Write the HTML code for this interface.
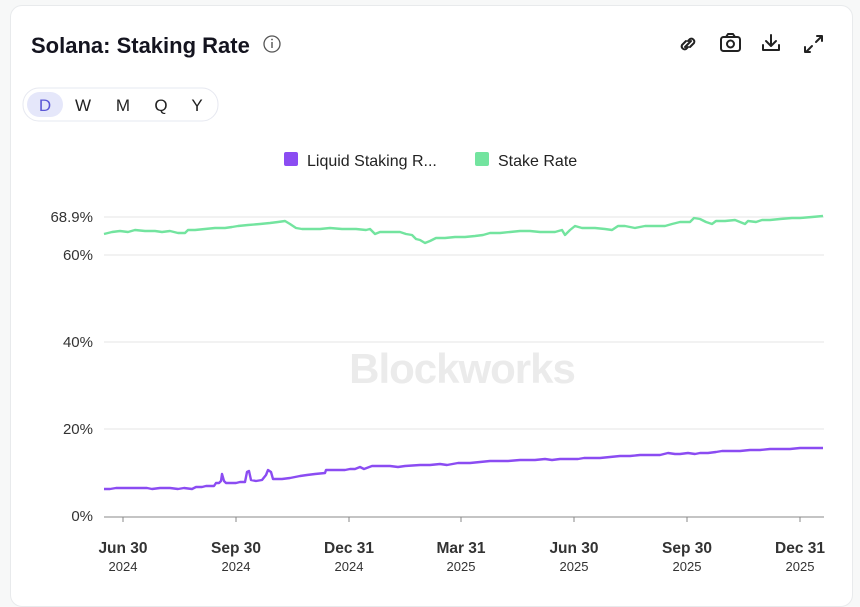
<!DOCTYPE html>
<html><head><meta charset="utf-8"><style>
html,body{margin:0;padding:0;background:#f7f8f8;width:860px;height:584px;overflow:hidden;font-family:"Liberation Sans",sans-serif}
.card{position:absolute;left:10px;top:5px;width:841px;height:600px;background:#fff;border:1px solid #e8eaec;border-radius:12px}
</style></head><body>
<div class="card"></div>
<svg width="860" height="584" style="position:absolute;left:0;top:0" font-family="Liberation Sans, sans-serif">
<text x="31" y="53" font-size="22" font-weight="bold" fill="#14141f">Solana: Staking Rate</text>
<circle cx="272" cy="44" r="8" fill="none" stroke="#555" stroke-width="1.3"/>
<line x1="272" y1="42" x2="272" y2="48" stroke="#555" stroke-width="1.4"/><circle cx="272" cy="39.5" r="0.9" fill="#555"/>
<g fill="none" stroke="#222" stroke-width="2" stroke-linecap="round" stroke-linejoin="round">
<path d="M686 41 l-4 4 a3 3 0 0 0 4 4 l2 -2 M690 47 l4 -4 a3 3 0 0 0 -4 -4 l-2 2 M685 47 l6 -6"/>
<rect x="721" y="37" width="19" height="14" rx="2.5"/><circle cx="730.5" cy="44" r="3.5"/><path d="M726 37 l2 -3 h5 l2 3"/>
<path d="M771 35 v11 M766 41 l5 5 l5 -5 M763 45 v5 h16 v-5"/>
<path d="M816 42 l6 -6 M817 36 h5 v5 M812 46 l-6 6 M805 47 v5 h5"/>
</g>
<rect x="23" y="88" width="195" height="33" rx="16" fill="#fff" stroke="#e6e8f0"/>
<rect x="27" y="92" width="36" height="25" rx="12.5" fill="#e5e7fa"/>
<g font-size="17" fill="#222" text-anchor="middle">
<text x="45" y="111" fill="#5b57d6">D</text><text x="83" y="111">W</text><text x="123" y="111">M</text><text x="161" y="111">Q</text><text x="197" y="111">Y</text>
</g>
<rect x="284" y="152" width="14" height="14" rx="2" fill="#8b4cf2"/>
<text x="307" y="166" font-size="16" fill="#222">Liquid Staking R...</text>
<rect x="475" y="152" width="14" height="14" rx="2" fill="#73e49f"/>
<text x="498" y="166" font-size="16" fill="#222">Stake Rate</text>
<text x="462" y="383" font-size="42" font-weight="bold" fill="#ebebeb" text-anchor="middle" letter-spacing="-1">Blockworks</text>
<g stroke="#e6e6e6" stroke-width="1">
<line x1="104" y1="217" x2="824" y2="217"/><line x1="104" y1="255" x2="824" y2="255"/>
<line x1="104" y1="342" x2="824" y2="342"/><line x1="104" y1="429" x2="824" y2="429"/>
</g>
<line x1="104" y1="517" x2="824" y2="517" stroke="#888" stroke-width="1"/>
<g stroke="#888"><line x1="123" y1="517" x2="123" y2="522"/><line x1="236" y1="517" x2="236" y2="522"/><line x1="349" y1="517" x2="349" y2="522"/><line x1="461" y1="517" x2="461" y2="522"/><line x1="574" y1="517" x2="574" y2="522"/><line x1="687" y1="517" x2="687" y2="522"/><line x1="800" y1="517" x2="800" y2="522"/></g>
<g font-size="15" fill="#333" text-anchor="end">
<text x="93" y="222">68.9%</text><text x="93" y="260">60%</text><text x="93" y="347">40%</text><text x="93" y="434">20%</text><text x="93" y="521">0%</text>
</g>
<g font-size="15.5" font-weight="bold" fill="#333" text-anchor="middle">
<text x="123" y="553">Jun 30</text><text x="236" y="553">Sep 30</text><text x="349" y="553">Dec 31</text><text x="461" y="553">Mar 31</text><text x="574" y="553">Jun 30</text><text x="687" y="553">Sep 30</text><text x="800" y="553">Dec 31</text>
</g>
<g font-size="13" fill="#333" text-anchor="middle">
<text x="123" y="571">2024</text><text x="236" y="571">2024</text><text x="349" y="571">2024</text><text x="461" y="571">2025</text><text x="574" y="571">2025</text><text x="687" y="571">2025</text><text x="800" y="571">2025</text>
</g>
<polyline fill="none" stroke="#73e49f" stroke-width="2.4" stroke-linejoin="round" points="104,234 112,232 120,231 128,232 135,230 145,231 155,231 162,232 170,231 178,233 185,233 188,230 195,230 205,229 215,228 225,228 232,227 238,226 248,225 260,224 270,223 278,222 285,221 290,224 296,228 302,229 312,229 320,229 330,228 342,229 356,229 366,230 370,229 375,234 380,232 390,232 400,232 406,234 412,235 416,239 420,240 425,243 430,241 436,238 445,238 455,237 465,237 475,236 483,235 490,233 500,233 510,232 520,231 530,231 540,232 548,232 555,232 562,230 565,235 570,230 575,226 582,228 595,228 605,229 612,230 618,226 625,226 635,228 645,226 655,226 665,226 672,224 680,222 690,222 694,218 700,219 706,222 712,224 716,221 725,221 735,220 740,222 745,224 748,221 756,222 762,220 770,220 780,219 792,218 800,218 812,217 823,216"/>
<polyline fill="none" stroke="#8b4cf2" stroke-width="2.4" stroke-linejoin="round" points="104,489 110,489 116,488 130,488 140,488 147,488 152,489 160,488 170,488 178,489 184,488 192,489 196,487 202,487 206,486 214,486 216,483 219,483 221,481 222,474 224,481 226,483 232,483 236,483 240,482 245,482 247,472 249,471 251,480 256,481 262,480 266,475 268,470 271,472 273,479 282,479 290,478 295,477 300,476 307,475 315,474 325,473 326,470 335,470 345,470 350,469 355,469 360,467 364,469 372,466 380,466 390,466 398,467 405,466 420,465 430,465 440,464 447,465 458,463 470,463 480,462 490,461 500,461 508,461 520,460 535,460 545,459 552,460 560,459 570,459 578,459 584,458 590,458 600,458 610,457 620,456 630,456 640,455 650,455 660,455 668,453 675,454 680,454 688,453 695,454 700,453 708,453 716,452 722,451 730,451 740,451 750,450 760,450 770,449 780,449 790,449 800,448 810,448 823,448"/>
</svg>
</body></html>
